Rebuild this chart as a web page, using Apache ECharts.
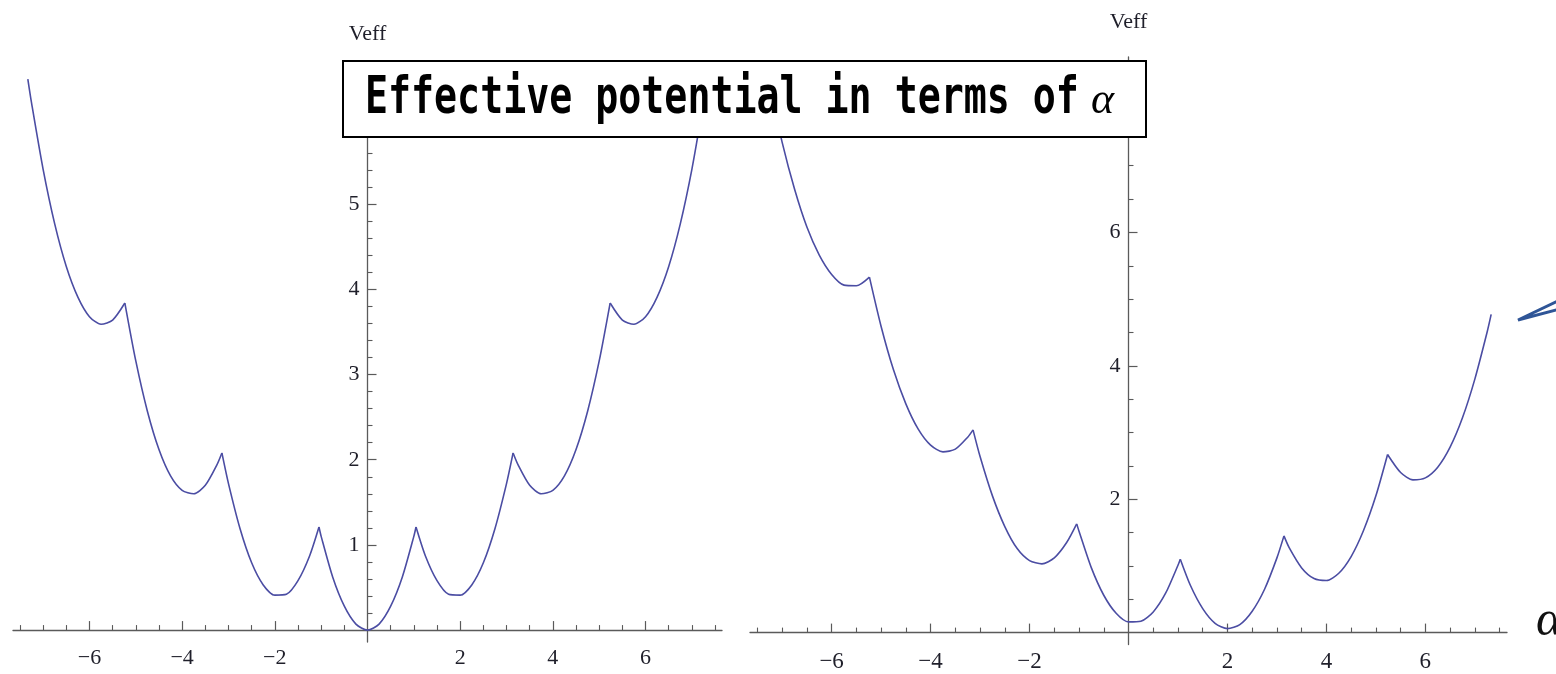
<!DOCTYPE html>
<html>
<head>
<meta charset="utf-8">
<title>Effective potential in terms of α</title>
<script src="https://cdn.jsdelivr.net/npm/echarts@6/dist/echarts.min.js"></script>
<style>
  html, body { margin: 0; padding: 0; background: #ffffff; }
  #chart { width: 1556px; height: 674px; }
</style>
</head>
<body>
<div id="chart"></div>
<script>
// Sample points of α shared by both potential curves (cusps included)
const alpha = [-7.33, -7.25, -7, -6.75, -6.5, -6.25, -6, -5.75, -5.5, -5.236,
  -5, -4.75, -4.5, -4.25, -4, -3.75, -3.5, -3.25, -3.142,
  -3, -2.75, -2.5, -2.25, -2, -1.75, -1.5, -1.25, -1.047,
  -1, -0.75, -0.5, -0.25, 0, 0.25, 0.5, 0.75, 1, 1.047,
  1.25, 1.5, 1.75, 2, 2.25, 2.5, 2.75, 3, 3.142,
  3.25, 3.5, 3.75, 4, 4.25, 4.5, 4.75, 5, 5.236,
  5.5, 5.75, 6, 6.25, 6.5, 6.75, 7, 7.25, 7.33];

// α values where the potential has a kink
const cusps = [-5.236, -3.142, -1.047, 1.047, 3.142, 5.236];

// Veff, symmetric case (left panel)
const veffLeft = [6.47, 6.19, 5.41, 4.77, 4.27, 3.91, 3.68, 3.59, 3.64, 3.84,
  3.16, 2.57, 2.12, 1.81, 1.64, 1.60, 1.70, 1.94, 2.08,
  1.72, 1.19, 0.79, 0.53, 0.41, 0.42, 0.58, 0.87, 1.21,
  1.10, 0.62, 0.28, 0.07, 0.00, 0.07, 0.28, 0.62, 1.10, 1.21,
  0.87, 0.58, 0.42, 0.41, 0.53, 0.79, 1.19, 1.72, 2.08,
  1.94, 1.70, 1.60, 1.64, 1.81, 2.12, 2.57, 3.16, 3.84,
  3.64, 3.59, 3.68, 3.91, 4.27, 4.77, 5.41, 6.19, 6.47];

// Veff, shifted case (right panel)
const veffRight = [8.49, 8.19, 7.35, 6.65, 6.08, 5.66, 5.37, 5.21, 5.20, 5.33,
  4.59, 3.94, 3.43, 3.05, 2.81, 2.71, 2.75, 2.93, 3.04,
  2.64, 2.05, 1.59, 1.26, 1.08, 1.03, 1.12, 1.35, 1.63,
  1.52, 0.97, 0.56, 0.29, 0.16, 0.17, 0.31, 0.59, 1.01, 1.10,
  0.71, 0.36, 0.14, 0.06, 0.12, 0.32, 0.65, 1.12, 1.45,
  1.27, 0.97, 0.81, 0.78, 0.89, 1.14, 1.53, 2.05, 2.67,
  2.40, 2.29, 2.32, 2.48, 2.78, 3.22, 3.80, 4.51, 4.77];

// Axis ticks and labels
const xMajorTicks = [-6, -4, -2, 2, 4, 6];
const xMinorTicks = [-7.5, -7, -6.5, -5.5, -5, -4.5, -3.5, -3, -2.5, -1.5, -1, -0.5,
  0.5, 1, 1.5, 2.5, 3, 3.5, 4.5, 5, 5.5, 6.5, 7, 7.5];
const xLabels = [-6, -4, -2, 2, 4, 6];

const yLeftMajorTicks = [1, 2, 3, 4, 5, 6];
const yLeftMinorTicks = [0.2, 0.4, 0.6, 0.8, 1.2, 1.4, 1.6, 1.8, 2.2, 2.4, 2.6, 2.8,
  3.2, 3.4, 3.6, 3.8, 4.2, 4.4, 4.6, 4.8, 5.2, 5.4, 5.6, 5.8, 6.2, 6.4, 6.6];
const yLeftLabels = [1, 2, 3, 4, 5];

const yRightMajorTicks = [2, 4, 6, 8];
const yRightMinorTicks = [0.5, 1, 1.5, 2.5, 3, 3.5, 4.5, 5, 5.5, 6.5, 7, 7.5, 8.5];
const yRightLabels = [2, 4, 6];

const titleText = 'Effective potential in terms of';
const yName = 'Veff';
const xName = 'α';

const AXIS_COLOR = '#5a5a5a';
const LABEL_COLOR = '#1f1f2a';
const CURVE_COLOR = '#4b4da3';
const SERIF = '"Liberation Serif", "DejaVu Serif", serif';

const X_MIN = -7.65, X_MAX = 7.65;

// Panel frames: the axes cross at the origin, which sits inside each frame
const panels = [
  { left: 13, top: 62, width: 709, height: 580, yMin: -0.14, yMax: 6.67,
    labelSize: 22, labelMargin: 17, nameGap: 17,
    yMajor: yLeftMajorTicks, yMinor: yLeftMinorTicks, yLabels: yLeftLabels, values: veffLeft },
  { left: 750, top: 57, width: 757, height: 587.6, yMin: -0.18, yMax: 8.63,
    labelSize: 23, labelMargin: 18, nameGap: 24,
    yMajor: yRightMajorTicks, yMinor: yRightMinorTicks, yLabels: yRightLabels, values: veffRight }
];

const fmt = v => String(v).replace('-', '\u2212');

const grids = [], xAxes = [], yAxes = [], series = [];

panels.forEach((p, gi) => {
  grids.push({ left: p.left, top: p.top, width: p.width, height: p.height,
    containLabel: false, outerBoundsMode: 'none' });

  // distance of the origin from the frame's left and bottom edges
  const yShift = -p.width * (0 - X_MIN) / (X_MAX - X_MIN);
  const xShift = -p.height * (0 - p.yMin) / (p.yMax - p.yMin);

  const xMajor = {
    type: 'value', gridIndex: gi, position: 'bottom', offset: xShift,
    min: X_MIN, max: X_MAX,
    axisLine: { show: true, onZero: false, lineStyle: { color: AXIS_COLOR, width: 1.3 } },
    axisTick: { show: true, inside: true, length: 9, customValues: xMajorTicks,
      lineStyle: { color: AXIS_COLOR, width: 1.2 } },
    axisLabel: { show: true, customValues: xLabels, formatter: fmt, margin: p.labelMargin,
      fontFamily: SERIF, fontSize: p.labelSize, color: LABEL_COLOR },
    splitLine: { show: false }
  };
  const xMinor = {
    type: 'value', gridIndex: gi, position: 'bottom', offset: xShift,
    min: X_MIN, max: X_MAX,
    axisLine: { show: false, onZero: false },
    axisTick: { show: true, inside: true, length: 5, customValues: xMinorTicks,
      lineStyle: { color: AXIS_COLOR, width: 1.1 } },
    axisLabel: { show: false },
    splitLine: { show: false }
  };
  const yMajor = {
    type: 'value', gridIndex: gi, position: 'left', offset: yShift,
    min: p.yMin, max: p.yMax,
    name: yName, nameLocation: 'end', nameGap: p.nameGap,
    nameTextStyle: { fontFamily: SERIF, fontSize: 22, color: LABEL_COLOR },
    axisLine: { show: true, onZero: false, lineStyle: { color: AXIS_COLOR, width: 1.3 } },
    axisTick: { show: true, inside: true, length: 9, customValues: p.yMajor,
      lineStyle: { color: AXIS_COLOR, width: 1.2 } },
    axisLabel: { show: true, customValues: p.yLabels, margin: 8,
      fontFamily: SERIF, fontSize: 22, color: LABEL_COLOR },
    splitLine: { show: false }
  };
  const yMinor = {
    type: 'value', gridIndex: gi, position: 'left', offset: yShift,
    min: p.yMin, max: p.yMax,
    axisLine: { show: false, onZero: false },
    axisTick: { show: true, inside: true, length: 5, customValues: p.yMinor,
      lineStyle: { color: AXIS_COLOR, width: 1.1 } },
    axisLabel: { show: false },
    splitLine: { show: false }
  };
  xAxes.push(xMajor, xMinor);
  yAxes.push(yMajor, yMinor);

  // each smooth branch between two kinks is its own line, so the kinks stay sharp
  let branch = [];
  alpha.forEach((a, i) => {
    branch.push([a, p.values[i]]);
    if (cusps.indexOf(a) >= 0 || i === alpha.length - 1) {
      series.push({
        type: 'line', xAxisIndex: gi * 2, yAxisIndex: gi * 2,
        data: branch, showSymbol: false, smooth: 0.25, z: 3,
        lineStyle: { color: CURVE_COLOR, width: 1.6 }
      });
      branch = [[a, p.values[i]]];
    }
  });
});

const chart = echarts.init(document.getElementById('chart'), null, { renderer: 'canvas' });

chart.setOption({
  backgroundColor: '#ffffff',
  animation: false,
  grid: grids,
  xAxis: xAxes,
  yAxis: yAxes,
  series: series,
  graphic: [
    {
      type: 'rect', z: 100,
      shape: { x: 343, y: 61, width: 803, height: 76 },
      style: { fill: '#ffffff', stroke: '#000000', lineWidth: 2 }
    },
    {
      type: 'text', z: 101, x: 365, y: 100, scaleX: 0.75, originX: 0, originY: 0,
      style: {
        text: titleText,
        fontFamily: '"DejaVu Sans Mono", monospace', fontWeight: 'bold', fontSize: 51,
        fill: '#000000', align: 'left', verticalAlign: 'middle',
        textAlign: 'left', textVerticalAlign: 'middle'
      }
    },
    {
      type: 'text', z: 101, x: 1091, y: 101,
      style: {
        text: xName,
        fontFamily: SERIF, fontStyle: 'italic', fontSize: 44,
        fill: '#000000', align: 'left', verticalAlign: 'middle',
        textAlign: 'left', textVerticalAlign: 'middle'
      }
    },
    {
      // horizontal-axis variable at the right edge
      type: 'text', z: 101, x: 1536, y: 622,
      style: {
        text: xName,
        fontFamily: SERIF, fontStyle: 'italic', fontSize: 50,
        fill: '#111111', align: 'left', verticalAlign: 'middle',
        textAlign: 'left', textVerticalAlign: 'middle'
      }
    },
    {
      type: 'polyline', z: 100,
      shape: { points: [[1560, 300], [1518, 320], [1560, 309]] },
      style: { fill: null, stroke: '#2f5597', lineWidth: 3, lineJoin: 'miter' }
    }
  ]
});
</script>
</body>
</html>
